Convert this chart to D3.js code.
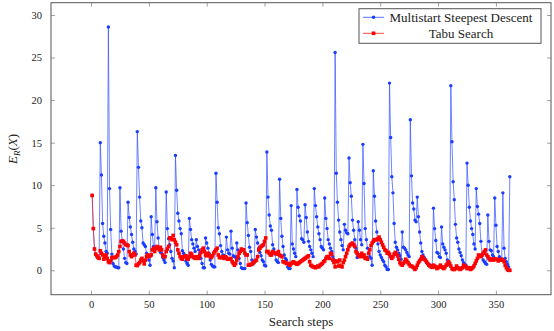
<!DOCTYPE html>
<html>
<head>
<meta charset="utf-8">
<script src="https://cdn.jsdelivr.net/npm/d3@7"></script>
<style>
  body { margin: 0; background: #fff; }
  svg { display: block; font-family: "Liberation Serif", "DejaVu Serif", serif; }
</style>
</head>
<body>
<script>
// series names
var seriesNames = ['Multistart Steepest Descent', 'Tabu Search']

// E_R(X) per search step (step = index + 1)
var steepest = [
  8.8, 4.9, 2.5, 1.9, 1.7, 1.5, 1.4, 15.0, 11.2, 5.5,
  4.0, 3.2, 2.2, 2.0, 28.6, 9.6, 4.8, 1.9, 0.8, 0.5,
  0.4, 0.4, 0.3, 0.3, 9.7, 4.6, 3.5, 2.5, 1.4, 0.9,
  0.8, 8.0, 6.2, 5.1, 4.2, 3.3, 2.5, 2.2, 1.9, 16.3,
  12.1, 8.6, 5.8, 5.0, 3.2, 3.0, 2.8, 2.0, 1.7, 1.2,
  0.6, 6.3, 4.2, 2.8, 2.3, 9.7, 5.7, 3.8, 2.6, 2.1,
  2.0, 1.5, 1.2, 0.9, 9.2, 4.9, 3.7, 3.0, 2.2, 1.4,
  1.1, 0.3, 13.5, 9.4, 6.7, 5.8, 4.9, 4.3, 2.3, 2.0,
  1.8, 1.1, 0.8, 0.6, 6.1, 4.8, 3.6, 3.1, 2.6, 2.2,
  3.6, 2.8, 2.4, 2.0, 1.4, 0.8, 0.3, 0.3, 3.8, 3.2,
  2.6, 2.0, 1.2, 0.7, 0.5, 0.4, 0.4, 11.4, 8.0, 5.0,
  4.3, 2.9, 2.2, 1.8, 1.7, 1.6, 3.9, 2.4, 2.0, 1.9,
  4.6, 2.6, 1.7, 1.6, 1.5, 3.2, 2.4, 1.4, 0.8, 0.3,
  0.2, 0.2, 0.2, 7.9, 5.6, 4.1, 2.7, 2.2, 1.2, 1.0,
  0.9, 4.8, 3.9, 3.2, 2.6, 2.1, 1.7, 1.2, 1.0, 0.6,
  0.5, 13.9, 8.6, 6.5, 5.2, 4.7, 3.0, 2.5, 1.9, 1.2,
  1.0, 0.9, 10.7, 6.1, 4.0, 2.8, 1.8, 1.4, 1.2, 0.4,
  0.2, 0.2, 7.6, 3.1, 2.5, 2.0, 1.6, 9.5, 7.4, 6.4,
  5.8, 3.7, 3.6, 3.3, 7.7, 6.2, 4.5, 3.4, 2.8, 2.4,
  2.0, 1.6, 9.6, 7.6, 6.3, 5.1, 4.3, 3.6, 2.8, 2.6,
  2.4, 8.5, 6.1, 4.9, 3.6, 3.1, 2.6, 2.2, 1.6, 1.2,
  25.6, 11.4, 8.0, 5.9, 4.5, 3.6, 2.9, 2.4, 5.4, 4.7,
  4.4, 4.3, 13.2, 10.3, 8.7, 5.9, 4.7, 3.6, 2.6, 1.5,
  5.7, 4.7, 3.6, 3.0, 14.8, 10.2, 4.9, 3.6, 2.6, 2.0,
  1.6, 1.4, 0.6, 11.7, 8.7, 5.8, 4.5, 3.1, 2.2, 1.8,
  1.5, 1.2, 1.0, 0.6, 0.4, 0.1, 0.1, 22.0, 15.6, 11.0,
  9.1, 5.5, 3.3, 2.7, 2.4, 2.0, 1.7, 1.3, 4.5, 2.7,
  2.6, 2.4, 2.1, 1.8, 1.6, 17.7, 11.1, 7.9, 7.2, 5.9,
  5.7, 8.6, 6.3, 4.5, 3.2, 2.2, 1.8, 1.5, 1.2, 0.9,
  0.8, 0.7, 0.6, 0.5, 0.5, 7.3, 4.9, 3.5, 2.1, 2.0,
  1.6, 1.5, 5.1, 3.1, 2.7, 2.4, 2.0, 1.2, 0.9, 0.6,
  21.7, 15.1, 10.4, 8.3, 5.4, 3.8, 3.3, 2.5, 2.1, 1.7,
  1.2, 0.9, 0.7, 0.6, 12.6, 10.0, 7.4, 5.8, 4.9, 4.2,
  3.1, 2.5, 9.6, 7.5, 6.6, 5.5, 3.4, 1.8, 1.2, 1.0,
  0.8, 0.7, 6.5, 3.4, 2.4, 2.3, 1.8, 1.6, 8.5, 5.3,
  2.8, 2.2, 1.6, 1.4, 1.2, 9.1, 2.6, 1.4, 1.0, 0.7,
  0.4, 11.0
]

var tabu = [
  8.8, 4.9, 2.5, 1.9, 1.7, 1.5, 1.4, 2.3, 2.0, 1.8,
  1.3, 1.6, 1.8, 1.4, 1.0, 0.9, 1.1, 1.5, 1.5, 1.5,
  1.5, 1.6, 1.8, 2.2, 2.8, 3.4, 3.4, 3.4, 3.2, 3.0,
  3.0, 2.9, 2.2, 1.8, 1.6, 1.8, 2.0, 1.8, 0.6, 0.55,
  0.75, 0.9, 1.2, 1.4, 1.1, 0.75, 1.2, 1.6, 1.8, 1.6,
  1.7, 1.8, 2.4, 2.6, 2.2, 2.6, 2.8, 2.6, 2.4, 2.7,
  2.4, 1.8, 1.6, 1.6, 2.2, 2.5, 2.8, 3.8, 3.8, 3.6,
  4.1, 3.6, 3.3, 3.0, 2.4, 2.0, 1.6, 1.4, 1.3, 1.6,
  1.6, 1.7, 1.4, 1.3, 1.6, 2.0, 1.9, 1.6, 1.5, 1.4,
  1.6, 1.5, 1.4, 1.7, 2.1, 2.4, 2.6, 2.2, 1.8, 1.7,
  2.0, 1.8, 1.6, 1.5, 1.7, 2.0, 2.2, 2.4, 2.6, 1.8,
  1.5, 1.5, 1.5, 1.6, 1.4, 1.6, 1.5, 1.3, 1.3, 1.3,
  1.4, 1.0, 0.8, 0.6, 0.8, 1.2, 1.6, 2.0, 2.2, 2.5,
  2.4, 2.4, 2.0, 1.8, 1.8, 0.6, 0.6, 0.7, 0.7, 0.8,
  1.0, 1.1, 1.2, 1.6, 2.4, 2.6, 2.8, 2.9, 3.0, 3.4,
  3.8, 2.2, 2.2, 2.0, 1.8, 1.8, 2.2, 2.1, 2.0, 2.0,
  1.9, 2.2, 1.8, 1.7, 1.6, 1.0, 1.0, 0.9, 0.8, 0.8,
  0.7, 0.6, 0.8, 0.9, 1.0, 0.9, 0.8, 0.7, 0.8, 0.9,
  1.0, 1.1, 1.2, 1.3, 1.4, 1.5, 1.6, 1.7, 1.0, 0.6,
  0.5, 0.4, 0.4, 0.3, 0.4, 0.5, 0.4, 0.6, 0.7, 0.8,
  1.0, 1.1, 1.4, 1.6, 1.6, 1.4, 2.0, 1.9, 1.2, 0.9,
  0.4, 1.1, 1.0, 0.5, 1.2, 0.5, 0.4, 0.9, 1.2, 1.6,
  2.0, 2.4, 2.8, 3.0, 3.1, 3.2, 3.0, 2.8, 2.2, 2.0,
  1.8, 1.6, 1.8, 2.0, 1.6, 1.8, 1.4, 1.5, 1.3, 2.0,
  2.4, 2.9, 3.2, 3.4, 3.6, 3.6, 3.6, 3.7, 3.9, 3.6,
  3.3, 3.0, 2.7, 2.4, 2.3, 2.0, 2.1, 1.9, 1.6, 1.4,
  1.6, 1.9, 2.1, 1.9, 1.7, 1.3, 0.9, 0.7, 0.6, 0.8,
  1.0, 1.3, 1.1, 0.9, 0.7, 0.5, 0.5, 0.4, 0.3, 0.1,
  0.3, 0.6, 0.9, 1.1, 1.3, 1.6, 1.4, 1.3, 1.2, 1.0,
  0.8, 0.6, 0.5, 0.4, 0.35, 0.6, 0.5, 0.4, 0.2, 0.3,
  0.4, 0.6, 0.4, 0.3, 0.2, 0.4, 0.6, 0.8, 1.0, 0.8,
  0.5, 0.2, 0.1, 0.1, 0.2, 0.5, 0.3, 0.2, 0.1, 0.2,
  0.3, 0.6, 0.5, 0.4, 0.2, 0.3, 0.3, 0.1, 0.2, 0.3,
  0.5, 0.8, 1.1, 1.4, 1.8, 1.7, 1.6, 1.8, 2.0, 2.2,
  2.4, 1.8, 1.6, 1.4, 1.2, 1.3, 1.3, 1.2, 1.3, 1.3,
  1.3, 1.1, 1.2, 1.2, 1.3, 1.2, 1.0, 0.6, 0.3, 0.1,
  0.0, 0.0
]

// tick values
var xTicks = [0, 50, 100, 150, 200, 250, 300, 350]
var yTicks = [0, 5, 10, 15, 20, 25, 30]

var width = 554
var height = 331
var plotL = 51, plotR = 551, plotT = 2.7, plotB = 294.7

var svg = d3.select('body').append('svg').attr('width', width).attr('height', height)

var x = d3.scaleLinear().domain([-34.6, 397.6]).range([plotL, plotR])
var y = d3.scaleLinear().domain([-2.87, 31.45]).range([plotB, plotT])

function toPoints(arr) { return arr.map(function (v, i) { return { step: i + 1, value: v } }) }
var blueData = toPoints(steepest)
var redData = toPoints(tabu)

///////// axes /////////
function styleAxis(g) {
  g.select('.domain').remove()
  g.selectAll('.tick line').attr('stroke', '#8a8a8a').attr('stroke-width', 0.8)
  g.selectAll('.tick text').attr('fill', '#222').style('font-size', '10.5px')
    .style('font-family', '"Liberation Serif", serif')
}

svg.append('g').attr('transform', 'translate(0,' + plotB + ')')
  .call(d3.axisBottom(x).tickValues(xTicks).tickSize(-4).tickPadding(6)).call(styleAxis)
svg.append('g').attr('transform', 'translate(0,' + plotT + ')')
  .call(d3.axisTop(x).tickValues(xTicks).tickSize(-4).tickFormat('')).call(styleAxis)
svg.append('g').attr('transform', 'translate(' + plotL + ',0)')
  .call(d3.axisLeft(y).tickValues(yTicks).tickSize(-4).tickPadding(9)).call(styleAxis)
svg.append('g').attr('transform', 'translate(' + plotR + ',0)')
  .call(d3.axisRight(y).tickValues(yTicks).tickSize(-4).tickFormat('')).call(styleAxis)

///////// series /////////
var line = d3.line().x(function (d) { return x(d.step) }).y(function (d) { return y(d.value) })

svg.append('path').datum(blueData).attr('d', line)
  .attr('fill', 'none').attr('stroke', '#3050ff').attr('stroke-width', 0.7)
svg.append('g').selectAll('circle').data(blueData).enter().append('circle')
  .attr('cx', function (d) { return x(d.step) }).attr('cy', function (d) { return y(d.value) })
  .attr('r', 1.7).attr('fill', '#1a3cff')

svg.append('path').datum(redData).attr('d', line)
  .attr('fill', 'none').attr('stroke', '#ff1a1a').attr('stroke-width', 0.7)
svg.append('g').selectAll('rect').data(redData).enter().append('rect')
  .attr('x', function (d) { return x(d.step) - 1.8 }).attr('y', function (d) { return y(d.value) - 1.8 })
  .attr('width', 3.6).attr('height', 3.6).attr('fill', '#ff0000')

///////// frame /////////
svg.append('rect').attr('x', plotL).attr('y', plotT).attr('width', plotR - plotL).attr('height', plotB - plotT)
  .attr('fill', 'none').attr('stroke', '#555').attr('stroke-width', 1)

///////// labels /////////
svg.append('text').attr('x', (plotL + plotR) / 2).attr('y', 326).attr('text-anchor', 'middle')
  .style('font-size', '13px').attr('fill', '#222').text('Search steps')

var yl = svg.append('text').attr('transform', 'translate(17,149) rotate(-90)').attr('text-anchor', 'middle')
  .style('font-size', '13px').attr('fill', '#222')
yl.append('tspan').style('font-style', 'italic').text('E')
yl.append('tspan').style('font-style', 'italic').style('font-size', '9px').attr('dy', 3).text('R')
yl.append('tspan').attr('dy', -3).text('(')
yl.append('tspan').style('font-style', 'italic').text('X')
yl.append('tspan').text(')')

///////// legend /////////
var legend = svg.append('g')
legend.append('rect').attr('x', 359).attr('y', 8.7).attr('width', 182).attr('height', 34.6)
  .attr('fill', '#fff').attr('stroke', '#555').attr('stroke-width', 1)

var rows = [
  { name: seriesNames[0], color: '#3050ff', mark: 'circle', y: 17.3 },
  { name: seriesNames[1], color: '#ff1a1a', mark: 'square', y: 33.3 }
]
rows.forEach(function (r) {
  legend.append('line').attr('x1', 363).attr('x2', 384).attr('y1', r.y).attr('y2', r.y)
    .attr('stroke', r.color).attr('stroke-width', 0.8)
  if (r.mark === 'circle') {
    legend.append('circle').attr('cx', 373.5).attr('cy', r.y).attr('r', 1.7).attr('fill', '#1a3cff')
  } else {
    legend.append('rect').attr('x', 371.7).attr('y', r.y - 1.8).attr('width', 3.6).attr('height', 3.6).attr('fill', '#ff0000')
  }
  legend.append('text').attr('x', 461).attr('y', r.y + 4.3).attr('text-anchor', 'middle')
    .style('font-size', '13px').attr('fill', '#222').text(r.name)
})
</script>
</body>
</html>
